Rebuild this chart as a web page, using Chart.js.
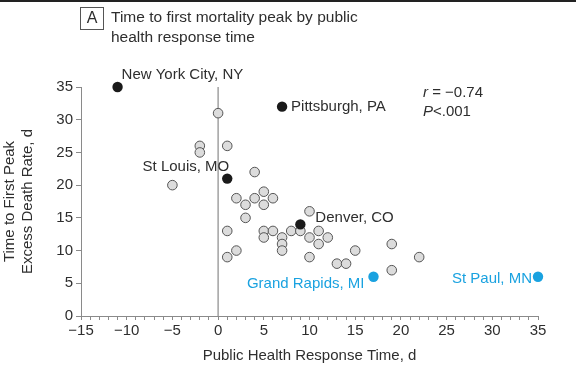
<!DOCTYPE html>
<html><head><meta charset="utf-8">
<script src="https://cdn.jsdelivr.net/npm/chart.js@4/dist/chart.umd.min.js"></script>
<style>html,body{margin:0;padding:0;background:#fff}#wrap{width:576px;height:384px;position:relative}</style>
</head><body><div id="wrap"><canvas id="c" width="576" height="384"></canvas></div>
<script>
// ---- data ----
const greyX = [0, -2, -2, 1, 4, -5, 2, 3, 4, 5, 5, 6, 3, 1, 5, 6, 5, 7, 7, 7, 8, 9, 10, 10, 11, 11, 12, 10, 13, 14, 15, 19, 19, 22, 1, 2];
const greyY = [31, 26, 25, 26, 22, 20, 18, 17, 18, 19, 17, 18, 15, 13, 13, 13, 12, 12, 11, 10, 13, 13, 16, 12, 13, 11, 12, 9, 8, 8, 10, 11, 7, 9, 9, 10];
const blackNames = ['New York City, NY', 'Pittsburgh, PA', 'St Louis, MO', 'Denver, CO'];
const blackX = [-11, 7, 1, 9];
const blackY = [35, 32, 21, 14];
const blueNames = ['Grand Rapids, MI', 'St Paul, MN'];
const blueX = [17, 35];
const blueY = [6, 6];
const xTickValues = [-15, -10, -5, 0, 5, 10, 15, 20, 25, 30, 35];
const yTickValues = [0, 5, 10, 15, 20, 25, 30, 35];
const statLines = ['r = \u22120.74', 'P<.001'];
const titleLines = ['Time to first mortality peak by public', 'health response time'];
const panelLetter = 'A';

// ---- styles / layout (not data) ----
const FONT = '"Liberation Sans", Arial, sans-serif';
const BLUE = '#1aa2e0';
const TXT = '#2e2e2e';
const AXIS = '#8a8a8a';
// label offsets: [dx, dy, align]
const blackLabelOff = [[4, -12, 'left'], [9, 0, 'left'], [2, -12, 'right'], [15, -7, 'left']];
const blueLabelOff = [[-9, 7, 'right'], [-6, 2, 'right']];

const toPts = (xs, ys) => xs.map((x, i) => ({x: x, y: ys[i]}));
const fmt = v => (v < 0 ? '\u2212' + Math.abs(v) : String(v));

const labelPlugin = {
  id: 'labels',
  afterDatasetsDraw(chart) {
    const ctx = chart.ctx, xs = chart.scales.x, ys = chart.scales.y;
    ctx.save();
    ctx.font = '15px ' + FONT;
    ctx.textBaseline = 'middle';
    const draw = (names, X, Y, off, color) => {
      names.forEach((n, i) => {
        const px = xs.getPixelForValue(X[i]), py = ys.getPixelForValue(Y[i]);
        ctx.fillStyle = color;
        ctx.textAlign = off[i][2];
        ctx.fillText(n, px + off[i][0], py + off[i][1]);
      });
    };
    draw(blackNames, blackX, blackY, blackLabelOff, TXT);
    draw(blueNames, blueX, blueY, blueLabelOff, BLUE);
    // stats
    ctx.fillStyle = TXT;
    ctx.textAlign = 'left';
    let sx = 423, sy = 93;
    ctx.font = 'italic 15px ' + FONT;
    ctx.fillText('r', sx, sy);
    let w = ctx.measureText('r').width;
    ctx.font = '15px ' + FONT;
    ctx.fillText(statLines[0].slice(1), sx + w, sy);
    ctx.font = 'italic 15px ' + FONT;
    ctx.fillText('P', sx, sy + 19);
    w = ctx.measureText('P').width;
    ctx.font = '15px ' + FONT;
    ctx.fillText(statLines[1].slice(1), sx + w, sy + 19);
    ctx.restore();
  }
};

const titlePlugin = {
  id: 'paneltitle',
  afterDraw(chart) {
    const ctx = chart.ctx;
    ctx.save();
    ctx.fillStyle = '#222';
    ctx.fillRect(0, 0, 576, 2);
    ctx.strokeStyle = '#555';
    ctx.lineWidth = 1;
    ctx.strokeRect(80.5, 7.5, 23, 22);
    ctx.font = '16px ' + FONT;
    ctx.fillStyle = TXT;
    ctx.textAlign = 'center';
    ctx.textBaseline = 'middle';
    ctx.fillText(panelLetter, 92, 19);
    ctx.textAlign = 'left';
    ctx.font = '15.5px ' + FONT;
    ctx.fillText(titleLines[0], 111, 18);
    ctx.fillText(titleLines[1], 111, 38);
    ctx.restore();
  }
};

new Chart(document.getElementById('c'), {
  type: 'scatter',
  data: {
    datasets: [
      {label: 'zero', data: [{x: 0, y: 0}, {x: 0, y: 35}], showLine: true, borderColor: '#8a8a8a', borderWidth: 1.2, pointRadius: 0, order: 5},
      {label: 'cities', data: toPts(greyX, greyY), backgroundColor: '#dcdcdc', borderColor: '#555', borderWidth: 1, pointRadius: 4.8, order: 3, clip: false},
      {label: 'named', data: toPts(blackX, blackY), backgroundColor: '#1a1a1a', borderColor: '#1a1a1a', borderWidth: 0, pointRadius: 5.2, order: 1, clip: false},
      {label: 'blue', data: toPts(blueX, blueY), backgroundColor: BLUE, borderColor: BLUE, borderWidth: 0, pointRadius: 5.2, order: 1, clip: false}
    ]
  },
  options: {
    responsive: false,
    animation: false,
    devicePixelRatio: 1,
    layout: {padding: {left: 0, right: 38, top: 87, bottom: 0}},
    plugins: {legend: {display: false}, tooltip: {enabled: false}},
    scales: {
      x: {
        type: 'linear', min: -15, max: 35,
        afterBuildTicks: s => { s.ticks = []; for (let v = -15; v <= 35; v++) s.ticks.push({value: v}); },
        afterFit: s => { s.height = 68; },
        ticks: {
          autoSkip: false, maxRotation: 0, minRotation: 0, padding: 2,
          color: TXT, font: {family: FONT, size: 15},
          callback: v => (xTickValues.includes(v) ? fmt(v) : '')
        },
        grid: {drawOnChartArea: false, drawTicks: true, tickLength: 4, color: AXIS},
        border: {color: AXIS, width: 1},
        title: {display: true, text: 'Public Health Response Time, d', color: TXT, font: {family: FONT, size: 15}, padding: {top: 0, bottom: 19}}
      },
      y: {
        type: 'linear', min: 0, max: 35,
        afterBuildTicks: s => { s.ticks = yTickValues.map(v => ({value: v})); },
        afterFit: s => { s.width = 81; },
        ticks: {padding: 3, color: TXT, font: {family: FONT, size: 15}},
        grid: {drawOnChartArea: false, drawTicks: true, tickLength: 5, color: AXIS},
        border: {color: AXIS, width: 1},
        title: {display: true, text: ['Time to First Peak', 'Excess Death Rate, d'], color: TXT, font: {family: FONT, size: 15, lineHeight: 1.2}, padding: {top: 1, bottom: 0}}
      }
    }
  },
  plugins: [labelPlugin, titlePlugin]
});
</script>
</body></html>
